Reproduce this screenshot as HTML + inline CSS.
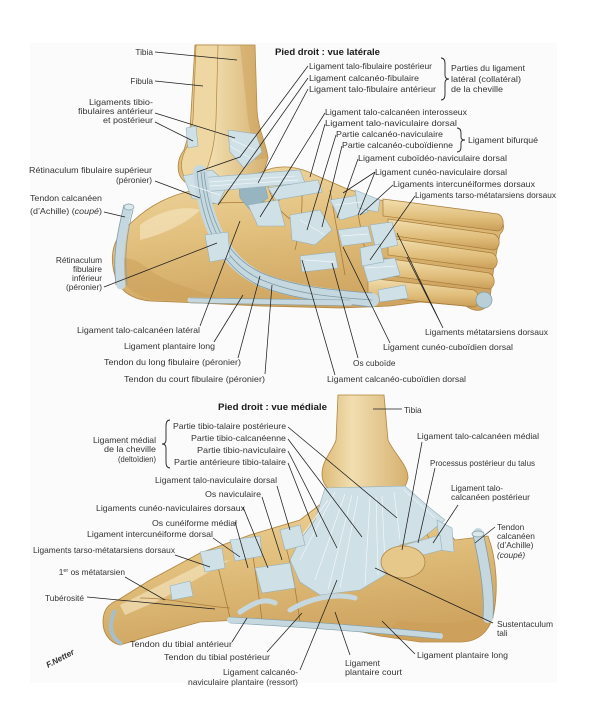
<!DOCTYPE html>
<html><head><meta charset="utf-8">
<style>
html,body{margin:0;padding:0;background:#fff;}
svg{display:block;}
text{font-family:"Liberation Sans",sans-serif;font-size:8.3px;fill:#333;}
.t{font-weight:bold;font-size:9.5px;fill:#1a1a1a;}
.r{text-anchor:end;}
.ld{stroke:#1e1e1e;stroke-width:0.75;fill:none;}
.bone{fill:url(#bg);stroke:#b08540;stroke-width:0.8;}
.bone2{fill:url(#bg2);stroke:#a87d3c;stroke-width:0.7;}
.lig{fill:#cfe0e6;stroke:#93b0bb;stroke-width:0.6;}
.ten{fill:none;stroke:#c6d8df;stroke-linecap:round;}
.teno{fill:none;stroke:#7f9ca8;stroke-linecap:round;}
.seam{fill:none;stroke:#a87c3a;stroke-width:0.8;}
.str{fill:none;stroke:#f2f7f9;stroke-width:0.7;}
.sh{fill:#c99d57;opacity:0.45;}
.hl{fill:#f6e8c4;opacity:0.6;}
</style></head>
<body>
<svg width="605" height="712" viewBox="0 0 605 712" xmlns="http://www.w3.org/2000/svg">
<defs>
<linearGradient id="bg" x1="0" y1="0" x2="0.3" y2="1">
<stop offset="0" stop-color="#efd8a2"/><stop offset="0.5" stop-color="#e2c07e"/><stop offset="1" stop-color="#cfa561"/>
</linearGradient>
<linearGradient id="bg2" x1="0" y1="0" x2="0" y2="1">
<stop offset="0" stop-color="#f2dfae"/><stop offset="0.6" stop-color="#e0bd7a"/><stop offset="1" stop-color="#c99e58"/>
</linearGradient>
<linearGradient id="leg" x1="0" y1="0" x2="1" y2="0">
<stop offset="0" stop-color="#ddbb78"/><stop offset="0.35" stop-color="#f1deb0"/><stop offset="1" stop-color="#d6b170"/>
</linearGradient>
</defs>
<rect x="0" y="0" width="605" height="712" fill="#fff"/>
<rect x="30" y="43" width="527" height="640" fill="#fbfbfb"/>

<!-- ============ LATERAL VIEW ============ -->
<path d="M195,45 L255,45 L257,110 C258,130 266,142 268,158 L262,178 L240,186 L210,186 L185,182 C176,175 176,160 184,150 L190,130 Z" fill="url(#leg)" stroke="#b08540" stroke-width="0.8"/>
<path d="M196,45 L218,45 L216,120 C215,140 212,160 202,180 L186,180 C178,168 182,155 188,145 L193,120 Z" fill="#eed7a2" stroke="#b08540" stroke-width="0.7"/>
<path class="sh" d="M240,45 L255,45 L257,110 C258,130 266,142 268,158 L255,160 L248,120 Z"/>
<!-- foot -->
<path class="bone" d="M132,222 C150,205 170,195 195,190 L230,182 L262,172 C280,163 300,167 315,175 L345,188 L380,200 L420,206 L470,212 L498,216 C505,222 505,230 500,234 L497,250 L494,266 L492,282 L490,298 C488,312 476,313 466,306 L420,302 L390,306 L340,308 L260,306 L200,303 L150,301 C130,299 118,290 114,272 C110,255 112,238 132,222 Z"/>
<path class="sh" d="M114,262 C120,285 135,298 160,300 L230,302 C200,290 170,285 150,270 C135,258 125,255 114,262 Z"/>
<path class="hl" d="M140,225 C160,210 185,205 200,210 C185,225 160,235 140,240 Z"/>
<!-- metatarsals -->
<g class="bone2">
<path d="M383,199 L498,214 C505,217 505,229 498,231 L383,216 Z"/>
<path d="M388,219 L494,234 C501,237 501,248 494,250 L388,235 Z"/>
<path d="M388,238 L492,253 C499,256 499,267 492,269 L388,255 Z"/>
<path d="M384,258 L489,273 C496,276 496,287 489,289 L384,275 Z"/>
<path d="M368,278 L474,290 C480,293 480,305 474,307 L368,296 Z"/>
</g>
<circle cx="484" cy="300" r="8" fill="#b9cfd8" stroke="#7f9ca8" stroke-width="0.7"/>
<path class="seam" d="M200,205 C230,200 255,205 280,200 M265,175 C270,200 280,215 300,225 M300,180 C305,200 300,230 295,250 M330,190 C335,220 340,245 345,275 M355,198 C360,225 365,250 370,275"/>
<!-- sinus tarsi dark -->
<path d="M238,178 L262,172 L268,198 L250,210 L240,198 Z" fill="#96b5c0" stroke="#7f9ca8" stroke-width="0.5"/>
<!-- Achilles -->
<path d="M128,208 C122,230 117,255 121,285" class="ten" stroke-width="9"/>
<path d="M124,205 C118,230 112,255 116,285 M133,210 C127,232 124,255 127,285" class="teno" stroke-width="0.8"/>
<ellipse cx="129" cy="207" rx="5" ry="3" fill="#dbe7eb" stroke="#7f9ca8" stroke-width="0.7"/>
<!-- ankle ligaments -->
<path class="lig" d="M228,130 L256,134 L262,152 L244,168 L230,152 Z"/>
<path class="lig" d="M186,128 L196,126 L198,146 L188,148 Z"/>
<path class="lig" d="M183,176 L212,170 L228,184 L218,204 L192,198 Z"/>
<path class="lig" d="M198,178 L300,170 L305,183 L202,192 Z"/>
<path class="lig" d="M248,205 L278,200 L285,226 L258,226 Z"/>
<path class="lig" d="M268,188 L318,180 L322,192 L276,200 Z"/>
<!-- peroneal tendons -->
<path d="M200,172 C205,220 222,262 262,280 C295,293 330,296 372,300" class="ten" stroke-width="14"/>
<path d="M197,172 C202,222 218,266 260,286 C295,300 330,302 372,307 M204,172 C209,220 226,258 264,274 C297,287 330,290 372,293 M201,172 C206,221 223,263 262,280 C296,294 330,297 372,300" class="teno" stroke-width="0.8"/>
<path class="lig" d="M205,235 L228,232 L230,258 L210,262 Z"/>
<path d="M190,300 L350,303" class="ten" stroke-width="5"/>
<path d="M190,298 L350,300 M190,303 L350,306" class="teno" stroke-width="0.6"/>
<!-- midfoot ligaments -->
<path class="lig" d="M290,215 L320,210 L332,230 L315,245 L292,240 Z"/>
<path class="lig" d="M300,256 L335,252 L338,268 L302,272 Z"/>
<path class="lig" d="M330,200 L360,195 L368,212 L340,220 Z"/>
<path class="lig" d="M338,230 L368,226 L372,242 L342,246 Z"/>
<path class="lig" d="M355,190 L380,200 L378,212 L358,208 Z"/>
<path class="lig" d="M370,225 L392,222 L398,245 L376,250 Z"/>
<path class="lig" d="M362,262 L395,258 L400,275 L368,282 Z"/>
<path class="lig" d="M378,290 L405,285 L408,298 L380,302 Z"/>
<path class="lig" d="M360,248 L380,244 L384,262 L362,266 Z"/>
<path class="str" d="M232,140 L255,150 M230,146 L250,158 M190,185 L220,195 M210,182 L295,176 M210,186 L298,180 M300,220 L325,235 M305,260 L335,262 M335,205 L362,202 M342,236 L368,234 M366,268 L396,266"/>

<!-- lateral labels -->
<text class="t" x="275" y="55" textLength="105" lengthAdjust="spacingAndGlyphs">Pied droit : vue latérale</text>
<text class="r" x="153" y="55">Tibia</text>
<text class="r" x="153" y="84">Fibula</text>
<text class="r" x="153" y="105" textLength="64" lengthAdjust="spacingAndGlyphs">Ligaments tibio-</text>
<text class="r" x="153" y="114" textLength="75" lengthAdjust="spacingAndGlyphs">fibulaires antérieur</text>
<text class="r" x="153" y="123" textLength="50" lengthAdjust="spacingAndGlyphs">et postérieur</text>
<text class="r" x="152" y="173" textLength="123" lengthAdjust="spacingAndGlyphs">Rétinaculum fibulaire supérieur</text>
<text class="r" x="152" y="183">(péronier)</text>
<text x="30" y="201" textLength="72" lengthAdjust="spacingAndGlyphs">Tendon calcanéen</text>
<text x="30" y="214" textLength="72" lengthAdjust="spacingAndGlyphs">(d’Achille) (<tspan font-style="italic">coupé</tspan>)</text>
<text class="r" x="102" y="263">Rétinaculum</text>
<text class="r" x="102" y="272">fibulaire</text>
<text class="r" x="102" y="281">inférieur</text>
<text class="r" x="102" y="290">(péronier)</text>
<text x="77" y="333" textLength="123" lengthAdjust="spacingAndGlyphs">Ligament talo-calcanéen latéral</text>
<text x="124" y="349" textLength="91" lengthAdjust="spacingAndGlyphs">Ligament plantaire long</text>
<text x="104" y="365" textLength="137" lengthAdjust="spacingAndGlyphs">Tendon du long fibulaire (péronier)</text>
<text x="124" y="382" textLength="141" lengthAdjust="spacingAndGlyphs">Tendon du court fibulaire (péronier)</text>

<text x="309" y="69" textLength="123" lengthAdjust="spacingAndGlyphs">Ligament talo-fibulaire postérieur</text>
<text x="309" y="81" textLength="110" lengthAdjust="spacingAndGlyphs">Ligament calcanéo-fibulaire</text>
<text x="309" y="92" textLength="127" lengthAdjust="spacingAndGlyphs">Ligament talo-fibulaire antérieur</text>
<path d="M441,58 q4,0 4,6 v11 q0,4 4,4 q-4,0 -4,4 v11 q0,6 -4,6" fill="none" stroke="#222" stroke-width="0.9"/>
<text x="451" y="71" textLength="74" lengthAdjust="spacingAndGlyphs">Parties du ligament</text>
<text x="451" y="82" textLength="70" lengthAdjust="spacingAndGlyphs">latéral (collatéral)</text>
<text x="451" y="92" textLength="52" lengthAdjust="spacingAndGlyphs">de la cheville</text>
<text x="325" y="115" textLength="142" lengthAdjust="spacingAndGlyphs">Ligament talo-calcanéen interosseux</text>
<text x="325" y="126" textLength="132" lengthAdjust="spacingAndGlyphs">Ligament talo-naviculaire dorsal</text>
<text x="336" y="137" textLength="107" lengthAdjust="spacingAndGlyphs">Partie calcanéo-naviculaire</text>
<text x="342" y="148" textLength="111" lengthAdjust="spacingAndGlyphs">Partie calcanéo-cuboïdienne</text>
<path d="M457,128 q4,0 4,5 v4 q0,3 4,3 q-4,0 -4,3 v4 q0,5 -4,5" fill="none" stroke="#222" stroke-width="0.9"/>
<text x="468" y="143" textLength="70" lengthAdjust="spacingAndGlyphs">Ligament bifurqué</text>
<text x="358" y="161" textLength="149" lengthAdjust="spacingAndGlyphs">Ligament cuboïdéo-naviculaire dorsal</text>
<text x="375" y="175" textLength="132" lengthAdjust="spacingAndGlyphs">Ligament cunéo-naviculaire dorsal</text>
<text x="393" y="187" textLength="142" lengthAdjust="spacingAndGlyphs">Ligaments intercunéiformes dorsaux</text>
<text x="415" y="198" textLength="141" lengthAdjust="spacingAndGlyphs">Ligaments tarso-métatarsiens dorsaux</text>
<text x="425" y="335" textLength="123" lengthAdjust="spacingAndGlyphs">Ligaments métatarsiens dorsaux</text>
<text x="383" y="350" textLength="130" lengthAdjust="spacingAndGlyphs">Ligament cunéo-cuboïdien dorsal</text>
<text x="353" y="366">Os cuboïde</text>
<text x="327" y="382" textLength="139" lengthAdjust="spacingAndGlyphs">Ligament calcanéo-cuboïdien dorsal</text>

<g class="ld">
<path d="M155,52 L237,60"/>
<path d="M155,81 L203,86"/>
<path d="M155,113 L235,138"/>
<path d="M155,122 L193,141"/>
<path d="M155,181 L200,198"/>
<path d="M104,212 L125,217"/>
<path d="M104,287 L217,243"/>
<path d="M200,326 L240,221"/>
<path d="M214,342 L243,295"/>
<path d="M238,358 L260,276"/>
<path d="M265,374 L272,285"/>
<path d="M308,66 L240,157 L197,172"/>
<path d="M308,78 L218,205"/>
<path d="M308,89 L258,183"/>
<path d="M325,113 L260,217"/>
<path d="M325,124 L310,177"/>
<path d="M336,135 L307,230"/>
<path d="M342,146 L322,227"/>
<path d="M358,159 L337,218"/>
<path d="M375,172 L343,193 M375,172 L358,215"/>
<path d="M393,185 L360,215"/>
<path d="M415,196 L370,260"/>
<path d="M443,328 L397,233 M443,328 L407,257"/>
<path d="M390,343 L343,247"/>
<path d="M358,358 L332,263"/>
<path d="M335,375 L302,260"/>
</g>

<!-- ============ MEDIAL VIEW ============ -->
<path d="M338,395 L384,395 L388,440 C395,455 408,465 408,478 C405,492 395,500 380,500 L350,498 C335,496 322,488 322,474 C322,460 333,450 336,440 Z" fill="url(#leg)" stroke="#b08540" stroke-width="0.8"/>
<path class="bone" d="M103,622 C103,610 108,604 118,600 L150,580 L200,553 L250,535 L300,520 L322,503 L345,496 L375,500 L405,492 L425,505 L440,522 L455,540 L488,536 C497,560 498,590 494,612 C490,632 478,642 460,642 L420,642 L380,636 L335,626 L290,622 L240,620 L200,622 L150,636 L120,645 C108,642 103,632 103,622 Z"/>
<path class="sh" d="M380,636 L420,642 L460,642 C478,642 490,632 494,612 C470,625 430,625 400,620 Z"/>
<path class="hl" d="M120,605 L200,565 L230,560 L160,600 L125,615 Z"/>
<path class="seam" d="M140,598 C170,598 200,606 230,608 M215,555 C220,575 225,595 230,618 M250,540 C255,565 258,590 262,620 M280,530 C290,555 295,585 300,622 M420,505 C420,525 430,545 440,548"/>
<path d="M115,610 C108,625 110,638 122,644" fill="none" stroke="#a6c0ca" stroke-width="4"/>
<!-- deltoid -->
<path class="lig" d="M325,488 L405,486 L430,508 L445,520 L420,540 L400,545 L385,575 L360,590 L320,595 L300,582 L290,560 L300,540 L315,520 Z"/>
<path class="str" d="M335,492 L300,560 M345,494 L315,580 M358,496 L340,588 M370,497 L365,585 M382,496 L385,565 M394,492 L400,540 M404,490 L435,518 M328,500 L295,545 M352,495 L328,590 M376,497 L378,575"/>
<path class="lig" d="M437,520 L452,528 L454,552 L440,550 Z"/>
<path class="lig" d="M405,545 L440,535 L442,550 L412,558 Z"/>
<ellipse cx="403" cy="562" rx="22" ry="16" fill="#e6c88b" stroke="#b08540" stroke-width="0.8"/>
<!-- Achilles medial -->
<path d="M478,533 C484,560 490,590 488,618" class="ten" stroke-width="10"/>
<path d="M473,535 C479,562 485,592 483,618 M483,532 C489,560 495,590 493,618" class="teno" stroke-width="0.8"/>
<ellipse cx="478" cy="534" rx="6" ry="3" fill="#dbe7eb" stroke="#7f9ca8" stroke-width="0.7"/>
<!-- plantar -->
<path d="M230,620 C300,624 360,628 440,636" class="ten" stroke-width="6"/>
<path d="M230,617 C300,621 360,625 440,633 M230,623 C300,627 360,631 440,639" class="teno" stroke-width="0.6"/>
<path d="M240,612 C255,602 265,598 275,603" class="ten" stroke-width="5"/>
<path d="M290,610 C310,598 335,593 355,598" class="ten" stroke-width="5"/>
<path class="lig" d="M200,552 L222,548 L225,568 L205,572 Z"/>
<path class="lig" d="M230,540 L260,536 L262,556 L235,561 Z"/>
<path class="lig" d="M255,568 L290,563 L295,588 L262,593 Z"/>
<path class="lig" d="M280,530 L300,525 L305,545 L285,550 Z"/>
<path class="lig" d="M170,586 L190,581 L193,596 L172,600 Z"/>

<!-- medial labels -->
<text class="t" x="218" y="410" textLength="109" lengthAdjust="spacingAndGlyphs">Pied droit : vue médiale</text>
<text x="404" y="413">Tibia</text>
<text class="r" x="286" y="429" textLength="113" lengthAdjust="spacingAndGlyphs">Partie tibio-talaire postérieure</text>
<text class="r" x="286" y="441" textLength="95" lengthAdjust="spacingAndGlyphs">Partie tibio-calcanéenne</text>
<text class="r" x="286" y="453" textLength="89" lengthAdjust="spacingAndGlyphs">Partie tibio-naviculaire</text>
<text class="r" x="286" y="465" textLength="112" lengthAdjust="spacingAndGlyphs">Partie antérieure tibio-talaire</text>
<path d="M170,420 q-4,0 -4,6 v14 q0,4 -4,4 q4,0 4,4 v14 q0,6 4,6" fill="none" stroke="#222" stroke-width="0.9"/>
<text class="r" x="156" y="443" textLength="63" lengthAdjust="spacingAndGlyphs">Ligament médial</text>
<text class="r" x="156" y="452" textLength="52" lengthAdjust="spacingAndGlyphs">de la cheville</text>
<text class="r" x="156" y="462" textLength="38" lengthAdjust="spacingAndGlyphs">(deltoïdien)</text>
<text class="r" x="277" y="483" textLength="122" lengthAdjust="spacingAndGlyphs">Ligament talo-naviculaire dorsal</text>
<text class="r" x="261" y="497" textLength="56" lengthAdjust="spacingAndGlyphs">Os naviculaire</text>
<text class="r" x="245" y="511" textLength="149" lengthAdjust="spacingAndGlyphs">Ligaments cunéo-naviculaires dorsaux</text>
<text class="r" x="237" y="526" textLength="85" lengthAdjust="spacingAndGlyphs">Os cunéiforme médial</text>
<text class="r" x="213" y="537" textLength="126" lengthAdjust="spacingAndGlyphs">Ligament intercunéiforme dorsal</text>
<text class="r" x="175" y="553" textLength="142" lengthAdjust="spacingAndGlyphs">Ligaments tarso-métatarsiens dorsaux</text>
<text class="r" x="125" y="575">1<tspan font-size="5.5" dy="-3">er</tspan><tspan dy="3"> os métatarsien</tspan></text>
<text class="r" x="84" y="601" textLength="39" lengthAdjust="spacingAndGlyphs">Tubérosité</text>
<text x="130" y="647" textLength="102" lengthAdjust="spacingAndGlyphs">Tendon du tibial antérieur</text>
<text x="164" y="660" textLength="106" lengthAdjust="spacingAndGlyphs">Tendon du tibial postérieur</text>
<text class="r" x="298" y="675" textLength="75" lengthAdjust="spacingAndGlyphs">Ligament calcanéo-</text>
<text class="r" x="298" y="685" textLength="110" lengthAdjust="spacingAndGlyphs">naviculaire plantaire (ressort)</text>
<text x="417" y="439" textLength="122" lengthAdjust="spacingAndGlyphs">Ligament talo-calcanéen médial</text>
<text x="430" y="466" textLength="105" lengthAdjust="spacingAndGlyphs">Processus postérieur du talus</text>
<text x="451" y="491" textLength="52" lengthAdjust="spacingAndGlyphs">Ligament talo-</text>
<text x="451" y="500" textLength="79" lengthAdjust="spacingAndGlyphs">calcanéen postérieur</text>
<text x="497" y="530">Tendon</text>
<text x="497" y="539">calcanéen</text>
<text x="497" y="548">(d’Achille)</text>
<text x="497" y="558" font-style="italic">(coupé)</text>
<text x="497" y="627" textLength="56" lengthAdjust="spacingAndGlyphs">Sustentaculum</text>
<text x="497" y="636">tali</text>
<text x="417" y="658" textLength="91" lengthAdjust="spacingAndGlyphs">Ligament plantaire long</text>
<text x="345" y="666" textLength="35" lengthAdjust="spacingAndGlyphs">Ligament</text>
<text x="345" y="675" textLength="57" lengthAdjust="spacingAndGlyphs">plantaire court</text>
<text x="48" y="668" transform="rotate(-28 48 668)" font-style="italic" font-weight="bold" font-size="9" fill="#333">F.Netter</text>

<g class="ld">
<path d="M373,409 L402,409"/>
<path d="M288,427 L397,518"/>
<path d="M288,439 L362,537"/>
<path d="M288,451 L337,548"/>
<path d="M288,463 L317,537"/>
<path d="M277,486 L290,530"/>
<path d="M262,497 L282,560"/>
<path d="M243,507 L268,568"/>
<path d="M235,522 L248,568"/>
<path d="M213,538 L240,557"/>
<path d="M175,555 L210,567"/>
<path d="M125,577 L165,600"/>
<path d="M87,597 L215,609"/>
<path d="M232,642 L247,618"/>
<path d="M267,652 L302,613"/>
<path d="M300,670 L337,580"/>
<path d="M350,655 L335,612"/>
<path d="M415,654 L382,621"/>
<path d="M493,623 L375,568"/>
<path d="M495,527 L475,543"/>
<path d="M458,505 L433,543"/>
<path d="M435,468 L418,543"/>
<path d="M422,442 L402,550"/>
</g>
</svg>
</body></html>
